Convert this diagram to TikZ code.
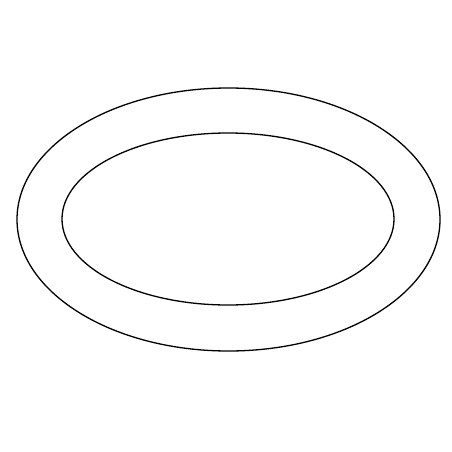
\documentclass[tikz,border=0pt]{standalone}
\begin{document}
\begin{tikzpicture}[x=1pt,y=-1pt,ring/.style={draw=black,line width=1.3pt}]
\useasboundingbox[fill=white] (0,0) rectangle (452,452);
\draw[ring] (228.5,219.5) ellipse [x radius=211.5, y radius=131.5];
\draw[ring] (228,219) ellipse [x radius=166, y radius=86];
\end{tikzpicture}
\end{document}
